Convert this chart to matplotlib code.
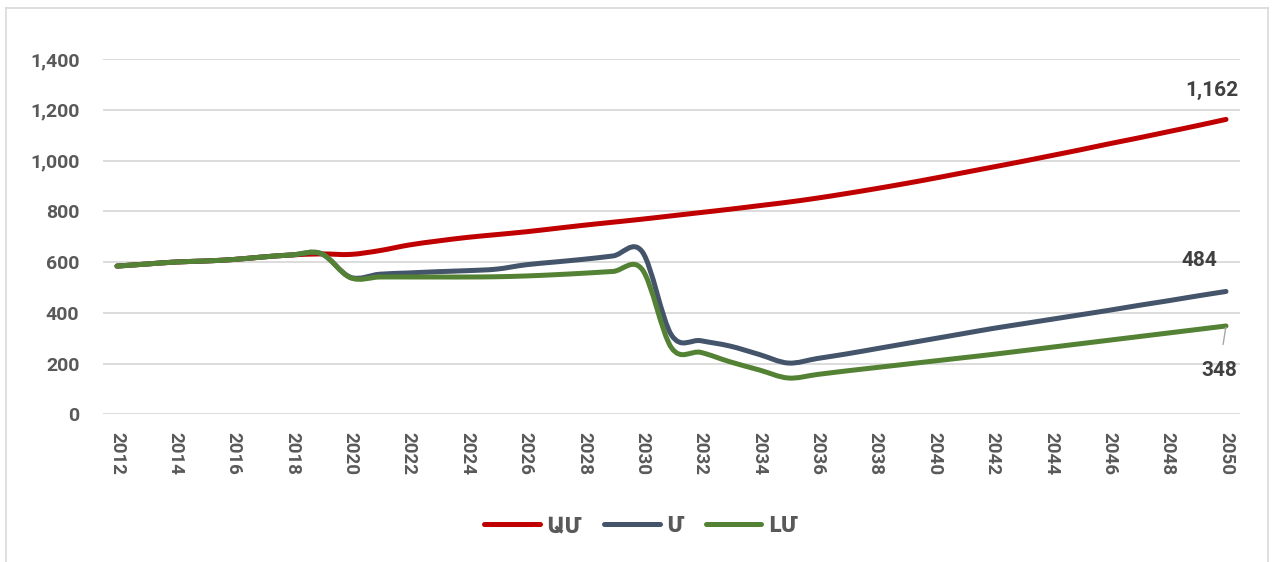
import matplotlib
matplotlib.use("Agg")
import matplotlib.pyplot as plt
from matplotlib.path import Path
from matplotlib.patches import PathPatch
from matplotlib.lines import Line2D
import numpy as np

# data
years = list(range(2012, 2051))
am = [584, 592, 600, 604, 610, 620, 628, 632, 630, 645, 667, 683, 697, 708, 719, 732, 745, 757, 769,
      782, 795, 808, 822, 836, 852, 870, 889, 909, 930, 952, 974, 996, 1019, 1042, 1066, 1089, 1113,
      1137, 1162]
m = [584, 592, 600, 604, 610, 620, 628, 633, 540, 552, 557, 562, 566, 572, 589, 600, 611, 624, 640,
     312, 290, 269, 236, 202, 220, 238, 258, 278, 298, 318, 338, 356, 374, 392, 410, 429, 447,
     466, 484]
lm = [584, 592, 600, 604, 610, 620, 628, 633, 538, 541, 541, 541, 541, 542, 545, 550, 556, 563, 570,
      262, 244, 207, 175, 143, 157, 171, 184, 197, 210, 223, 236, 250, 264, 278, 292, 306, 320,
      334, 348]
labels = ["ԱՄ", "Մ", "ԼՄ"]
colors = ["#C00000", "#44546A", "#548235"]
end_labels = ["1,162", "484", "348"]

FONT = ["Roboto", "DejaVu Sans"]
plt.rcParams["font.family"] = FONT
TXT = "#595959"


def smooth_path(xs, ys):
    # Excel-like smoothed line: cubic bezier through every point
    pts = np.column_stack([xs, ys]).astype(float)
    n = len(pts)
    verts = [pts[0]]
    codes = [Path.MOVETO]
    for i in range(n - 1):
        p0 = pts[max(i - 1, 0)]
        p1 = pts[i]
        p2 = pts[i + 1]
        p3 = pts[min(i + 2, n - 1)]
        c1 = p1 + (p2 - p0) / 6.0
        c2 = p2 - (p3 - p1) / 6.0
        verts += [c1, c2, p2]
        codes += [Path.CURVE4] * 3
    return Path(verts, codes)


fig = plt.figure(figsize=(12.72, 5.62), dpi=100)
ax = fig.add_axes([103 / 1272, 1 - 414.3 / 562, (1240 - 103) / 1272, (414.3 - 59) / 562])

# outer chart border
for xy in [([6 / 1272, 6 / 1272], [0, 1 - 8 / 562]),
           ([6 / 1272, 1268 / 1272], [1 - 8 / 562, 1 - 8 / 562]),
           ([1268 / 1272, 1268 / 1272], [1 - 8 / 562, 0])]:
    fig.add_artist(Line2D(xy[0], xy[1], transform=fig.transFigure, color="#D9D9D9", lw=1.2))

handles = []
for ys, lab, col in zip([am, m, lm], labels, colors):
    patch = PathPatch(smooth_path(years, ys), fill=False, edgecolor=col, lw=3.6,
                      capstyle="round", joinstyle="round")
    ax.add_patch(patch)
    handles.append(Line2D([], [], color=col, lw=3.6, solid_capstyle="round"))

ax.set_xlim(2011.52, 2050.48)
ax.set_ylim(0, 1400)
ax.set_yticks(range(0, 1401, 200))
ax.set_yticklabels([f"{v:,}" for v in range(0, 1401, 200)])
ax.set_xticks(years[::2])
ax.set_xticklabels([str(y) for y in years[::2]], rotation=-90)
ax.yaxis.grid(True, color="#D9D9D9", lw=1.3)
ax.set_axisbelow(True)
for s in ax.spines.values():
    s.set_visible(False)
ax.tick_params(length=0, colors=TXT, labelsize=14)
ax.tick_params(axis="y", pad=17)
ax.tick_params(axis="x", pad=13, labelsize=13.5)
for t in ax.get_xticklabels() + ax.get_yticklabels():
    t.set_fontweight("bold")

# end-of-series data labels
lab_kw = dict(textcoords="offset points", ha="center", va="center", fontsize=15,
              fontweight="bold", color="#404040")
ax.annotate(end_labels[0], (years[-1], am[-1]), xytext=(-10, 21), **lab_kw)
ax.annotate(end_labels[1], (years[-1], m[-1]), xytext=(-19, 22), **lab_kw)
ax.annotate(end_labels[2], (years[-1], lm[-1]), xytext=(-5, -32),
            arrowprops=dict(arrowstyle="-", color="#A6A6A6", lw=1, shrinkA=10, shrinkB=1), **lab_kw)

fig.legend(handles, labels, loc="center", bbox_to_anchor=(641 / 1272, 1 - 526 / 562), ncol=3,
           frameon=False, prop={"family": FONT, "weight": "bold", "size": 16},
           labelcolor=TXT, handlelength=2.5, handletextpad=0.3, columnspacing=1.0)

fig.savefig("out.png", dpi=100, facecolor="white")
